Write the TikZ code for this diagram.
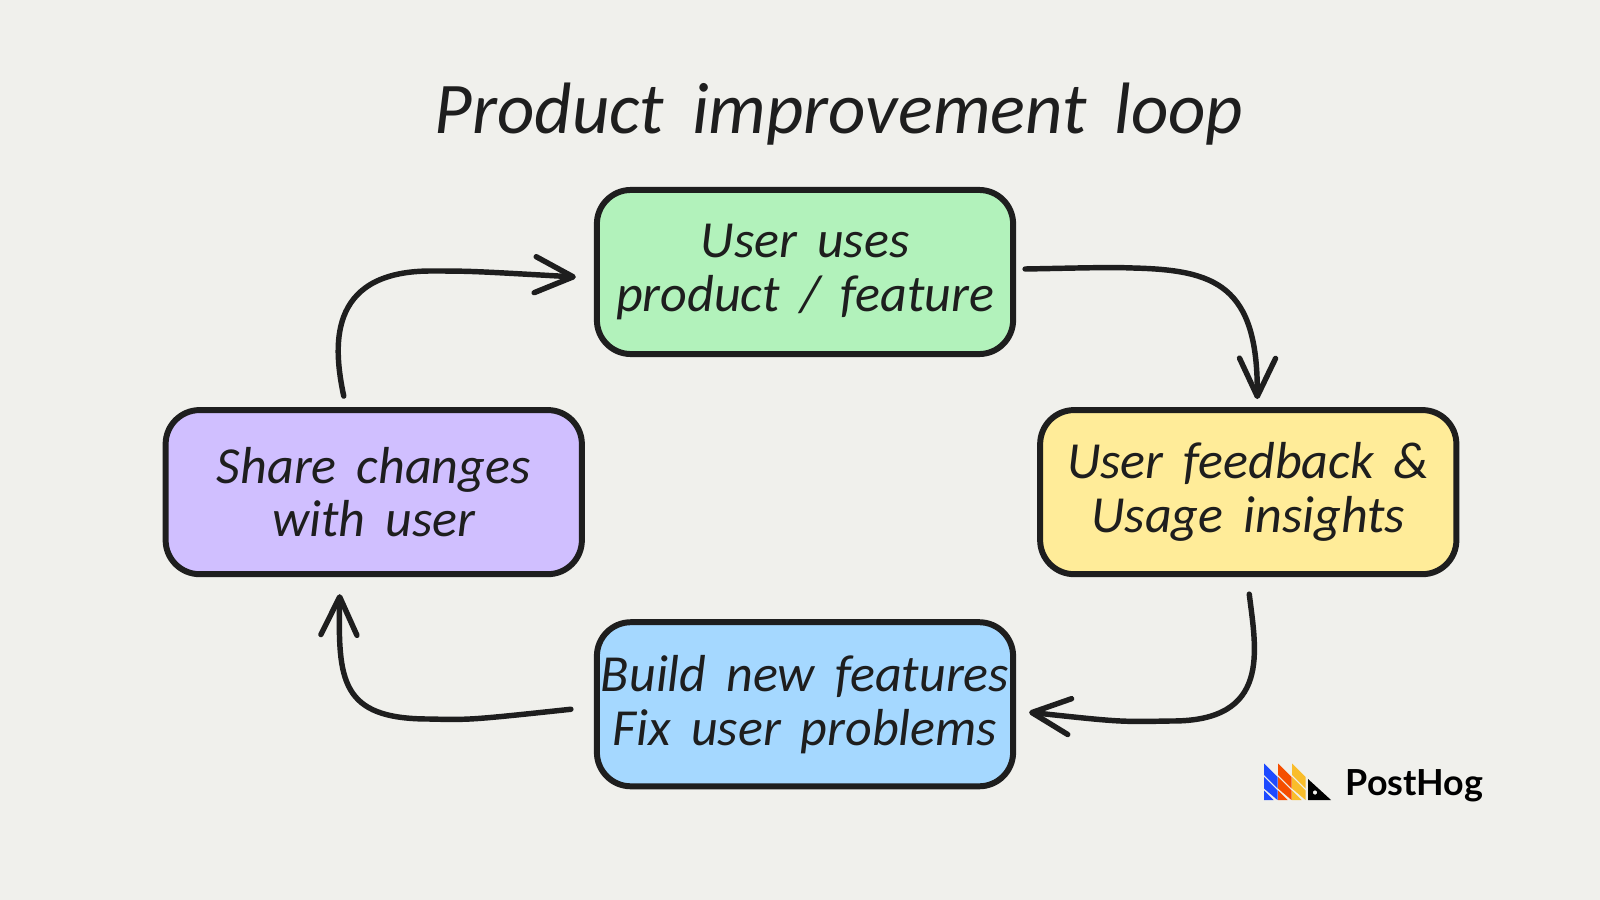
\documentclass[tikz,border=0pt]{standalone}
\usepackage{fontspec}
\setmainfont{Carlito}[WordSpace=1.7]
\newfontfamily\logofont{Lato}
\usetikzlibrary{arrows.meta,calc,positioning}
\definecolor{paper}{HTML}{F0F0EC}
\definecolor{ink}{HTML}{1E1E1E}
\definecolor{stepgreen}{HTML}{B2F2BB}
\definecolor{steppurple}{HTML}{D0BFFF}
\definecolor{stepyellow}{HTML}{FFEC99}
\definecolor{stepblue}{HTML}{A5D8FF}
\definecolor{hogblue}{HTML}{1D4AFF}
\definecolor{hogorange}{HTML}{F54E00}
\definecolor{hogyellow}{HTML}{F9BD2B}
\tikzset{
  stepbox/.style={draw=ink,line width=1.7pt,rounded corners=.34cm,align=center,outer sep=0pt,
    minimum width=4.16cm,minimum height=1.64cm,inner sep=0pt,text=ink,
    font=\itshape\fontsize{14.8}{15.3}\selectfont},
  flow/.style={draw=ink,line width=1.55pt,line cap=round,
    -{Straight Barb[round,length=.38cm,width=.36cm,line width=1.55pt]}},
}
\begin{document}
\begin{tikzpicture}[x=.01cm,y=-.01cm]
  \fill[paper] (0,0) rectangle (1600,900);
  \useasboundingbox (0,0) rectangle (1600,900);
  \node[anchor=base,text=ink,font=\itshape\fontsize{20.7}{22}\selectfont] (title) at (839,133) {Product improvement loop};
  \node[stepbox,fill=stepgreen] (uses) at (805,272) {User uses\\product / feature};
  \node[stepbox,fill=stepblue,below=2.68cm of uses] (build) {Build new features\\Fix user problems};
  \node[stepbox,fill=steppurple,below left=.56cm and .15cm of uses] (share) {Share changes\\with user};
  \node[stepbox,fill=stepyellow,below right=.56cm and .27cm of uses] (feedback) {User feedback \&\\Usage insights};
  \draw[flow] ($(uses.east)+(12,-3)$) .. controls (1080,268) and (1110,267) .. (1133,268) .. controls (1215,270) and (1258,285) .. ($(feedback.north)+(9,-11)$);
  \draw[flow] ($(feedback.south)+(1,20)$) .. controls (1256,650) and (1272,722) .. (1170,721) .. controls (1120,722) .. ($(build.east)+(16,8)$);
  \draw[flow] ($(build.west)+(-26,5)$) .. controls (470,720) .. (429,719) .. controls (340,719) and (338,680) .. ($(share.south)+(-34,20)$);
  \draw[flow] ($(share.north)+(-30,-14)$) .. controls (334,350) and (325,272) .. (429,271) .. controls (470,271) .. ($(uses.west)+(-21,5)$);
  % logo
  \foreach \dx/\hogcolor in {0/hogblue,14/hogorange,28/hogyellow} {
    \fill[\hogcolor] (1264+\dx,763.5) -- (1277.5+\dx,777) -- (1277.5+\dx,788.5) -- (1264+\dx,775) -- cycle;
    \fill[\hogcolor] (1264+\dx,777) -- (1277.5+\dx,790.5) -- (1277.5+\dx,800) -- (1264+\dx,788.5) -- cycle;
    \fill[\hogcolor] (1264+\dx,790.5) -- (1273.5+\dx,800) -- (1264+\dx,800) -- cycle;
  }
  \fill[black,even odd rule] (1308,779) -- (1331,800) -- (1308,800) -- cycle (1315,792.5) circle (2.2);
  \node[anchor=base west,inner sep=0pt,font=\logofont\bfseries\fontsize{10.2}{11}\selectfont,text=black] (logo) at (1345,795) {PostHog};
\end{tikzpicture}
\end{document}
